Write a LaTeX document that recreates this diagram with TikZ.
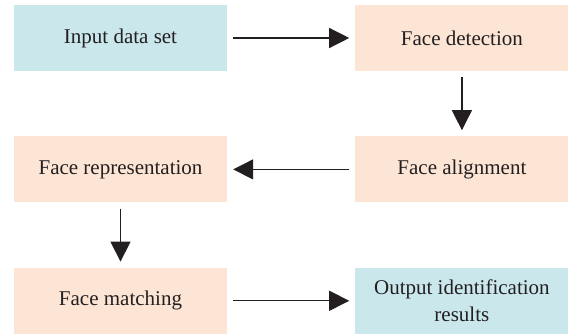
\documentclass[tikz,border=0pt]{standalone}
\usepackage{fontspec}
\setmainfont{Liberation Serif}
\usetikzlibrary{arrows.meta,positioning}
\definecolor{fcInk}{HTML}{231F20}
\definecolor{fcCyan}{HTML}{CAE8EC}
\definecolor{fcPeach}{HTML}{FDE5D5}

\begin{document}
\begin{tikzpicture}[
  x=1pt,y=-1pt,
  node distance=65pt and 128pt,
  stage/.style={fill=fcPeach,draw=none,align=center,text=fcInk,
    font=\fontsize{21}{27}\selectfont,minimum width=213pt,minimum height=66pt,
    inner sep=0pt},
  io/.style={stage,fill=fcCyan},
  ar/.style={-{Triangle[length=20pt,width=20pt]},draw=fcInk,fill=fcInk,
    line width=1.3pt,shorten <=6pt,shorten >=6pt}
]
\useasboundingbox (0,0) rectangle (569,336);
\node[io] (input) at (120.5,38) {Input data set};
\node[stage,right=of input] (detect) {Face detection};
\node[stage,below=of detect] (align) {Face alignment};
\node[stage,left=of align] (repr) {Face representation};
\node[stage,below=of repr] (match) {Face matching};
\node[io,right=of match] (output) {Output identification\\results};

\draw[ar] (input) -- (detect);
\draw[ar] (detect) -- (align);
\draw[ar] (align) -- (repr);
\draw[ar] (repr) -- (match);
\draw[ar] (match) -- (output);
\end{tikzpicture}
\end{document}
